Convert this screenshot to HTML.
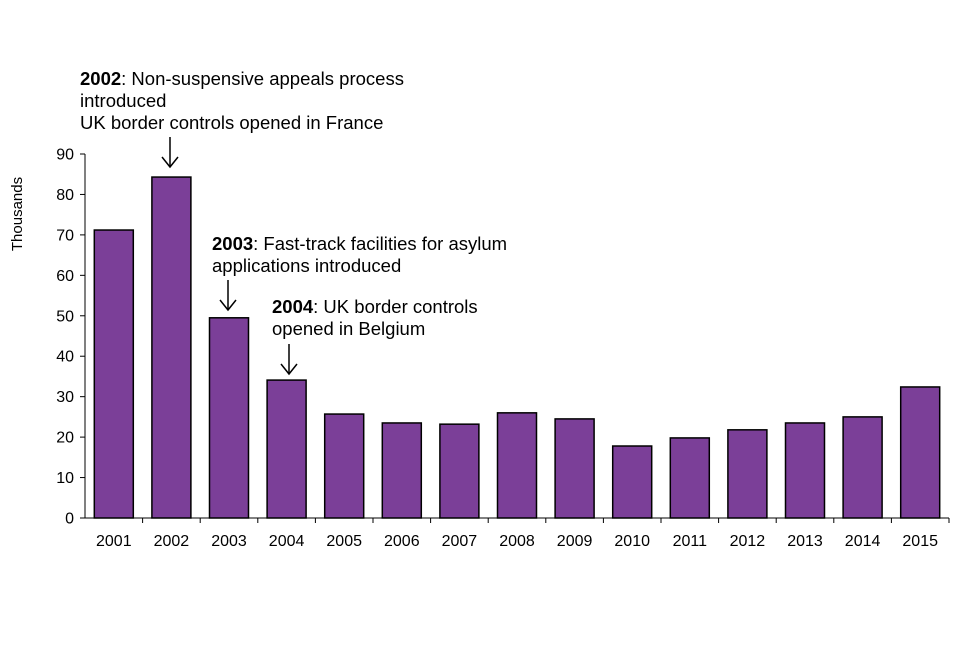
<!DOCTYPE html>
<html><head><meta charset="utf-8"><style>
body{margin:0;background:#fff;}
svg text{font-family:"Liberation Sans",Arial,sans-serif;fill:#000;}
</style></head><body>
<svg width="960" height="640" xmlns="http://www.w3.org/2000/svg">
<g id="plot"></g>
<text transform="translate(22,214) rotate(-90)" text-anchor="middle" font-size="15">Thousands</text>
<g font-size="18.5">
<text x="80" y="85"><tspan font-weight="bold">2002</tspan>: Non-suspensive appeals process</text>
<text x="80" y="107">introduced</text>
<text x="80" y="129">UK border controls opened in France</text>
<line x1="170" y1="137" x2="170" y2="166" stroke="#000" stroke-width="1.5"/>
<path d="M162,157 L170,167 L178,157" fill="none" stroke="#000" stroke-width="1.5"/>
</g>
<g font-size="18.5">
<text x="212" y="250"><tspan font-weight="bold">2003</tspan>: Fast-track facilities for asylum</text>
<text x="212" y="272">applications introduced</text>
<line x1="228" y1="280" x2="228" y2="309" stroke="#000" stroke-width="1.5"/>
<path d="M220,300 L228,310 L236,300" fill="none" stroke="#000" stroke-width="1.5"/>
</g>
<g font-size="18.5">
<text x="272" y="313"><tspan font-weight="bold">2004</tspan>: UK border controls</text>
<text x="272" y="335">opened in Belgium</text>
<line x1="289" y1="344" x2="289" y2="373" stroke="#000" stroke-width="1.5"/>
<path d="M281,364 L289,374 L297,364" fill="none" stroke="#000" stroke-width="1.5"/>
</g>
</svg>
<script>
const categories=["2001","2002","2003","2004","2005","2006","2007","2008","2009","2010","2011","2012","2013","2014","2015"];
const values=[71.2,84.3,49.5,34.1,25.7,23.5,23.2,26.0,24.5,17.8,19.8,21.8,23.5,25.0,32.4];
const yTicks=[0,10,20,30,40,50,60,70,80,90];
const ns="http://www.w3.org/2000/svg";
const g=document.getElementById('plot');
const x0=85,y0=518,bw=57.6,yScale=(518-154)/90;
const y=v=>y0-v*yScale;
const xc=i=>x0+bw*(i+0.5);
function el(t,a){const e=document.createElementNS(ns,t);for(const k in a)e.setAttribute(k,a[k]);g.appendChild(e);return e;}
categories.forEach((c,i)=>{
 const r=el('rect',{x:xc(i)-19.5,y:y(values[i]),width:39,height:y0-y(values[i]),fill:'#7B3F98',stroke:'#000','stroke-width':1.5});
 
 
 const t=el('text',{x:xc(i),y:546,'text-anchor':'middle','font-size':16});
 t.textContent=c;
 
 
 const tk=el('line',{x1:x0+bw*(i+1),x2:x0+bw*(i+1),y1:y0,y2:y0+5,stroke:'#000'});
 
 
});
yTicks.forEach(v=>{
 const t=el('text',{x:74,y:y(v)+5.5,'text-anchor':'end','font-size':16});
 t.textContent=v;
 
 
 const l=el('line',{x1:x0-5,x2:x0,y1:y(v),y2:y(v),stroke:'#000'});
 
 
});
const ya=el('line',{x1:x0,x2:x0,y1:y(90),y2:y0,stroke:'#000'});


const xa=el('line',{x1:x0-5,x2:x0+bw*categories.length,y1:y0,y2:y0,stroke:'#000'});


</script>
</body></html>
